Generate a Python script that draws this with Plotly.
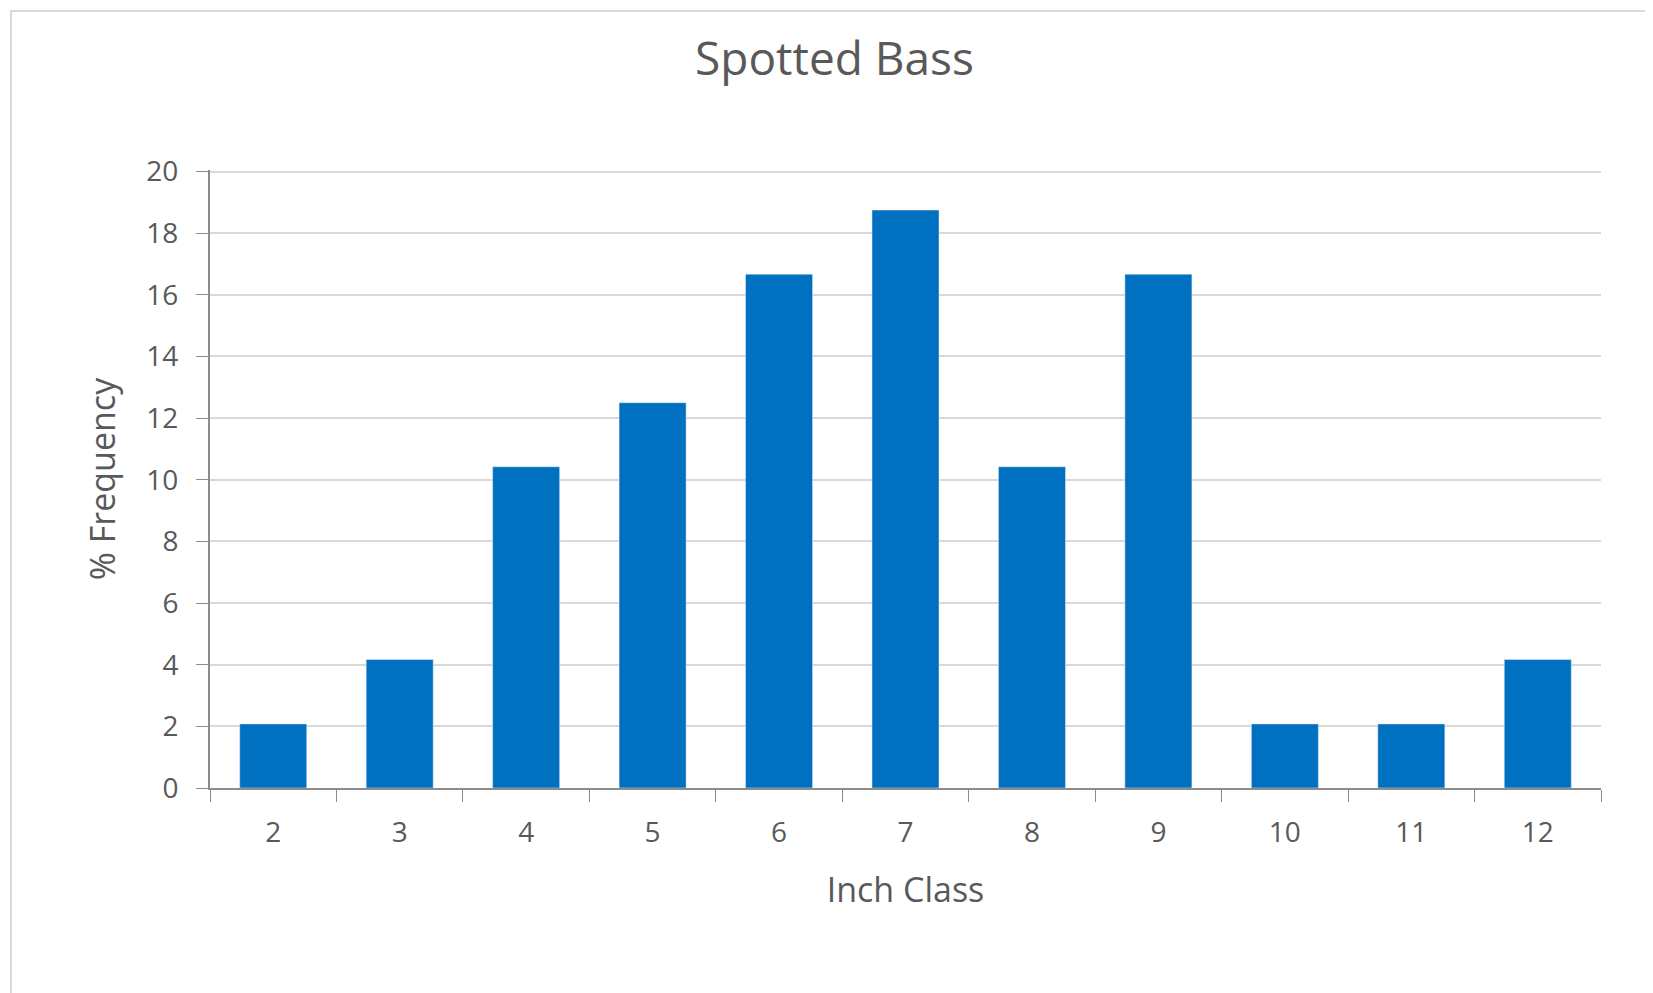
import plotly.graph_objects as go

inch_class = ["2", "3", "4", "5", "6", "7", "8", "9", "10", "11", "12"]
pct_freq = [2.08, 4.17, 10.42, 12.5, 16.67, 18.75, 10.42, 16.67, 2.08, 2.08, 4.17]

fig = go.Figure(go.Bar(x=inch_class, y=pct_freq, marker_color="#0070C0", width=0.53))

font = dict(family="Open Sans, Liberation Sans, Arial", color="#595959")
L, R, T, B = 202, 60, 162, 213
pw, ph = 1653 - L - R, 993 - T - B

fig.update_layout(
    width=1653, height=993,
    paper_bgcolor="white", plot_bgcolor="white",
    margin=dict(l=L, r=R, t=T, b=B),
    title=dict(text="Spotted Bass", x=0.5, xanchor="center", y=0.965, yanchor="top",
               font=dict(size=46, **font)),
    font=dict(size=28, **font),
    bargap=0.47,
    showlegend=False,
    xaxis=dict(title=dict(text="Inch Class", font=dict(size=34, **font), standoff=30),
               showline=True, linecolor="#8c8c8c", linewidth=2,
               ticks="outside", ticklen=12, tickcolor="#8c8c8c",
               tickson="boundaries", ticklabelstandoff=18,
               tickfont=dict(size=28, **font)),
    yaxis=dict(title=dict(text="% Frequency", font=dict(size=34, **font), standoff=20),
               range=[0, 20.05], dtick=2, showgrid=True, gridcolor="#d9d9d9", gridwidth=2,
               showline=True, linecolor="#8c8c8c", linewidth=2,
               ticks="outside", ticklen=12, tickcolor="#8c8c8c", ticklabelstandoff=12,
               zeroline=False, tickfont=dict(size=28, **font)),
    shapes=[dict(type="rect", xref="paper", yref="paper",
                 x0=-(L - 3) / pw, x1=1 + (R - 3) / pw,
                 y0=-(B - 3) / ph, y1=1 + (T - 3) / ph,
                 line=dict(color="#d9d9d9", width=2))],
)

fig.write_html("out.html")
